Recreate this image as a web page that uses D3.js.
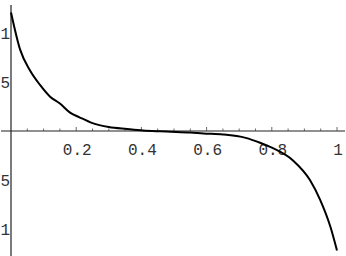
<!DOCTYPE html>
<html>
<head>
<meta charset="utf-8">
<script src="https://cdn.jsdelivr.net/npm/d3@7"></script>
<style>
  body { margin: 0; background: #fff; }
  svg { display: block; }
  .tick-label { font-family: "Liberation Mono", "DejaVu Sans Mono", monospace; font-size: 16px; fill: #333; }
</style>
</head>
<body>
<div id="chart-area"></div>
<script>
// curve
const xVals = [0, 0.028, 0.058, 0.089, 0.12, 0.15, 0.18, 0.21, 0.25, 0.30, 0.356, 0.405, 0.457,
               0.49, 0.55, 0.59, 0.65, 0.72, 0.764, 0.80, 0.865, 0.917, 0.948, 0.98, 1.0];
const yVals = [1.21, 0.83, 0.62, 0.47, 0.35, 0.28, 0.19, 0.14, 0.08, 0.04, 0.02, 0.005, -0.003,
               -0.007, -0.015, -0.025, -0.035, -0.07, -0.12, -0.17, -0.30, -0.50, -0.70, -0.98, -1.22];

const xTickLabels = [0.2, 0.4, 0.6, 0.8, 1];
const xMinorTicks = d3.range(1, 21).map(i => i * 0.05);
const yTickLabels = [1, 0.5, -0.5, -1];

const WIDTH = 346;
const HEIGHT = 256;

let svg = d3.select("#chart-area").append("svg")
    .attr("width", WIDTH)
    .attr("height", HEIGHT);

let x = d3.scaleLinear().domain([0, 1]).range([11, 337]);
let y = d3.scaleLinear().domain([0, 1]).range([131, 33]);

// axes
svg.append("line")
    .attr("x1", 1).attr("x2", WIDTH - 1)
    .attr("y1", y(0)).attr("y2", y(0))
    .attr("stroke", "#222").attr("stroke-width", 1.2);

svg.append("line")
    .attr("x1", x(0)).attr("x2", x(0))
    .attr("y1", 5).attr("y2", HEIGHT)
    .attr("stroke", "#222").attr("stroke-width", 1.2);

// small ticks on x axis, pointing up
svg.selectAll(".xtick")
    .data(xMinorTicks)
    .enter().append("line")
    .attr("class", "xtick")
    .attr("x1", d => x(d)).attr("x2", d => x(d))
    .attr("y1", y(0))
    .attr("y2", (d, i) => y(0) - ((i + 1) % 4 === 0 ? 4 : 2.5))
    .attr("stroke", "#444").attr("stroke-width", 0.8);

// labels
svg.selectAll(".xlabel")
    .data(xTickLabels)
    .enter().append("text")
    .attr("class", "tick-label")
    .attr("text-anchor", "middle")
    .attr("x", d => x(d) + 1)
    .attr("y", 155)
    .text(d => d);

svg.selectAll(".ylabel")
    .data(yTickLabels)
    .enter().append("text")
    .attr("class", "tick-label")
    .attr("text-anchor", "end")
    .attr("x", 10)
    .attr("y", d => y(d) + 6)
    .text(d => d);

// the curve
let pts = xVals.map((v, i) => [v, yVals[i]]);
let line = d3.line()
    .x(d => x(d[0]))
    .y(d => y(d[1]))
    .curve(d3.curveMonotoneX);

svg.append("path")
    .datum(pts)
    .attr("d", line)
    .attr("fill", "none")
    .attr("stroke", "#000")
    .attr("stroke-width", 2);
</script>
</body>
</html>
